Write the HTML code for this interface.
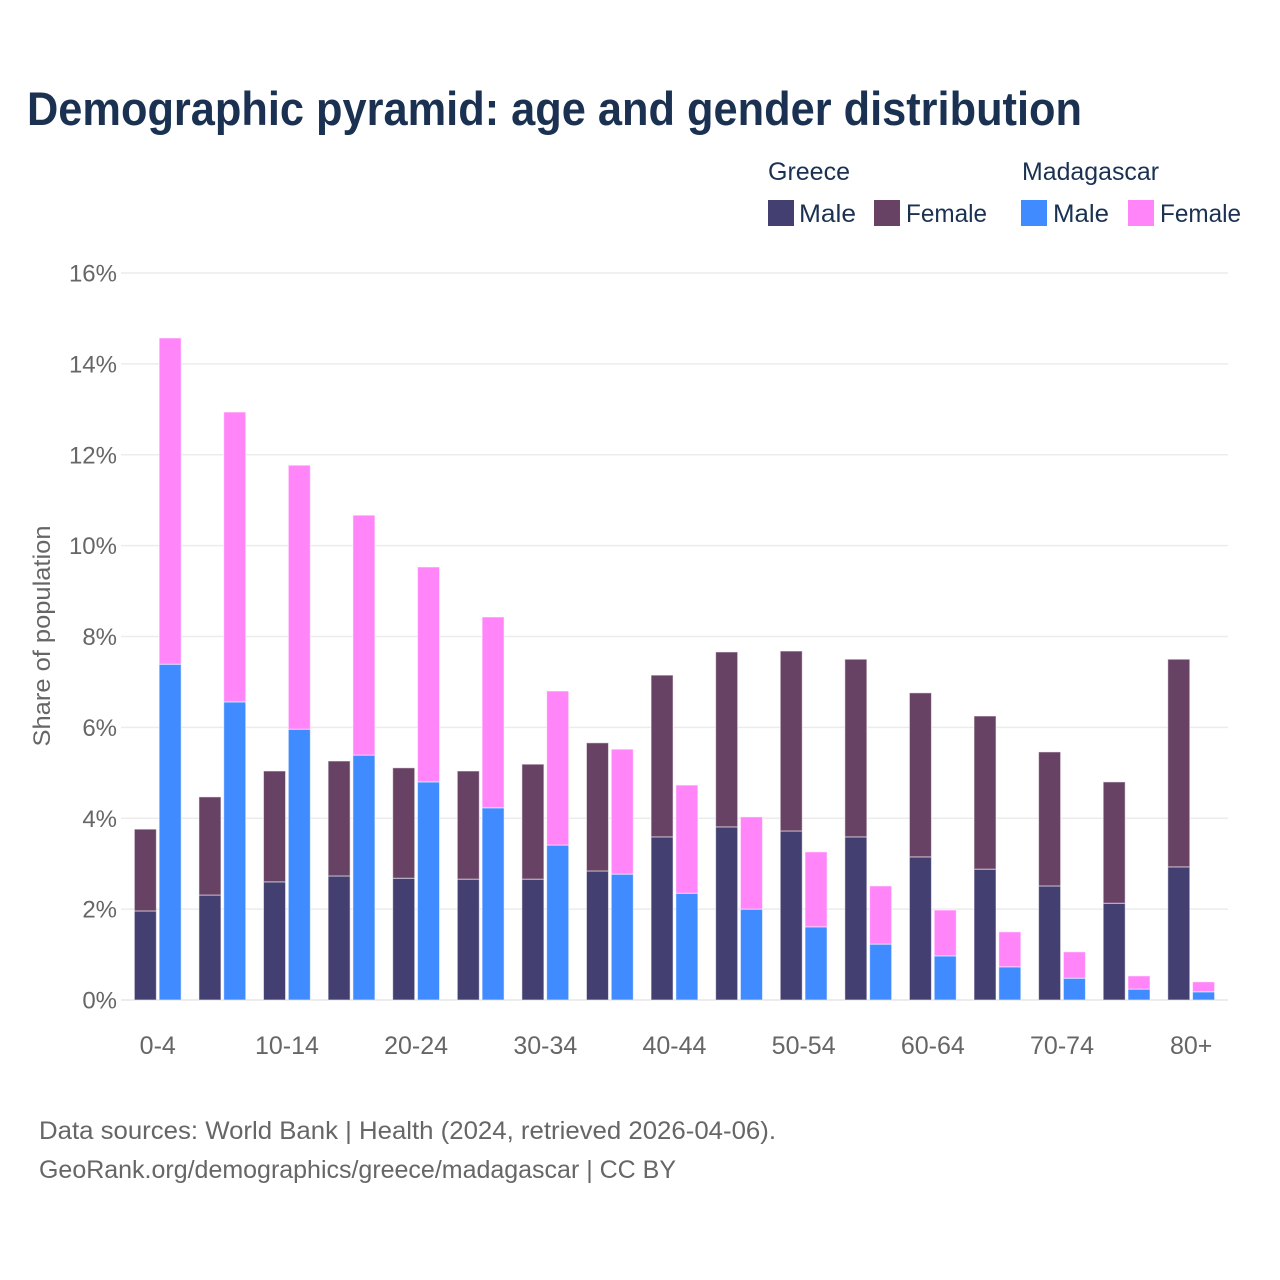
<!DOCTYPE html>
<html lang="en">
<head>
<meta charset="utf-8">
<title>Demographic pyramid: age and gender distribution</title>
<style>
  html, body { margin: 0; padding: 0; background: #fff; }
  svg { display: block; }
  text { font-family: "Liberation Sans", sans-serif; }
</style>
</head>
<body>
<svg id="chart" xmlns="http://www.w3.org/2000/svg" width="1280" height="1280" viewBox="0 0 1280 1280">
  <rect x="0" y="0" width="1280" height="1280" fill="#ffffff"/>
  <text x="27" y="125" font-size="47" font-weight="700" fill="#1a3152" textLength="1055" lengthAdjust="spacingAndGlyphs">Demographic pyramid: age and gender distribution</text>

  <g font-size="25" fill="#1a3152">
    <text x="768" y="180" textLength="82" lengthAdjust="spacingAndGlyphs">Greece</text>
    <text x="1022" y="180" textLength="137" lengthAdjust="spacingAndGlyphs">Madagascar</text>
    <g>
      <rect x="768" y="200" width="26" height="26" fill="#433f70"/>
      <text x="799" y="222" textLength="57" lengthAdjust="spacingAndGlyphs">Male</text>
    </g>
    <g>
      <rect x="874" y="200" width="26" height="26" fill="#684264"/>
      <text x="906" y="222" textLength="81" lengthAdjust="spacingAndGlyphs">Female</text>
    </g>
    <g>
      <rect x="1021" y="200" width="26" height="26" fill="#3f8bff"/>
      <text x="1053" y="222" textLength="56" lengthAdjust="spacingAndGlyphs">Male</text>
    </g>
    <g>
      <rect x="1128" y="200" width="26" height="26" fill="#ff85f9"/>
      <text x="1160" y="222" textLength="81" lengthAdjust="spacingAndGlyphs">Female</text>
    </g>
  </g>

  <g id="grid"></g>
  <g id="bars"></g>
  <g id="y-ticks"></g>
  <g id="x-ticks"></g>

  <text transform="translate(50,636) rotate(-90)" text-anchor="middle" font-size="24" fill="#666666" textLength="221" lengthAdjust="spacingAndGlyphs">Share of population</text>

  <g font-size="25" fill="#666666">
    <text x="39" y="1139" textLength="737" lengthAdjust="spacingAndGlyphs">Data sources: World Bank | Health (2024, retrieved 2026-04-06).</text>
    <text x="39" y="1178" textLength="637" lengthAdjust="spacingAndGlyphs">GeoRank.org/demographics/greece/madagascar | CC BY</text>
  </g>
</svg>
<script>
const categories = ["0-4","5-9","10-14","15-19","20-24","25-29","30-34","35-39","40-44","45-49","50-54","55-59","60-64","65-69","70-74","75-79","80+"];
const greeceMale = [1.96,2.31,2.60,2.73,2.68,2.66,2.66,2.84,3.59,3.81,3.72,3.59,3.15,2.88,2.51,2.13,2.93];
const greeceFemale = [1.80,2.16,2.44,2.53,2.43,2.38,2.53,2.82,3.56,3.85,3.96,3.91,3.61,3.37,2.95,2.67,4.57];
const madagascarMale = [7.39,6.56,5.96,5.39,4.80,4.23,3.41,2.77,2.35,2.00,1.61,1.23,0.97,0.73,0.48,0.24,0.18];
const madagascarFemale = [7.18,6.38,5.81,5.28,4.73,4.20,3.39,2.75,2.38,2.03,1.65,1.28,1.01,0.77,0.58,0.29,0.22];
const yTicks = [0,2,4,6,8,10,12,14,16];

const SVG_NS = "http://www.w3.org/2000/svg";
const plot = { baseY: 1000, topY: 273, maxV: 16, firstCenter: 157.75, step: 64.59, gridLeft: 121, gridRight: 1228, barW: 22, offset: 12.4 };

function yScale(v) {
  return plot.baseY - (v / plot.maxV) * (plot.baseY - plot.topY);
}
function xCenter(i) {
  return plot.firstCenter + i * plot.step;
}
function make(tag, attrs, parent) {
  const el = document.createElementNS(SVG_NS, tag);
  for (const k in attrs) el.setAttribute(k, attrs[k]);
  parent.appendChild(el);
  return el;
}

const gridG = document.getElementById("grid");
const yTickG = document.getElementById("y-ticks");
yTicks.forEach(function (t) {
  const line = make("line", { x1: plot.gridLeft, x2: plot.gridRight, y1: yScale(t), y2: yScale(t), stroke: "#ececec", "stroke-width": t === 0 ? 2 : 1.5 }, gridG);
  
  
  const label = make("text", { x: 117, y: yScale(t) + 8.5, "text-anchor": "end", "font-size": 24, fill: "#666666" }, yTickG);
  
  
  label.textContent = t + "%";
});

const barsG = document.getElementById("bars");
function drawSegment(i, side, from, to, color, name) {
  const yTop = yScale(from + to);
  const yBottom = yScale(from);
  const rect = make("rect", {
    x: xCenter(i) + side * plot.offset - plot.barW / 2,
    y: yTop,
    width: plot.barW,
    height: yBottom - yTop,
    fill: color,
    stroke: "#ffffff",
    "stroke-opacity": 0.55,
    "stroke-width": 1
  }, barsG);
  
  
}
categories.forEach(function (c, i) {
  drawSegment(i, -1, 0, greeceMale[i], "#433f70", "bar-greece-male");
  drawSegment(i, -1, greeceMale[i], greeceFemale[i], "#684264", "bar-greece-female");
  drawSegment(i, 1, 0, madagascarMale[i], "#3f8bff", "bar-madagascar-male");
  drawSegment(i, 1, madagascarMale[i], madagascarFemale[i], "#ff85f9", "bar-madagascar-female");
});

const xTickG = document.getElementById("x-ticks");
categories.forEach(function (c, i) {
  if (i % 2 !== 0) return;
  const label = make("text", { x: xCenter(i), y: 1054, "text-anchor": "middle", "font-size": 25, fill: "#666666" }, xTickG);
  
  
  label.textContent = c;
});
</script>
</body>
</html>
